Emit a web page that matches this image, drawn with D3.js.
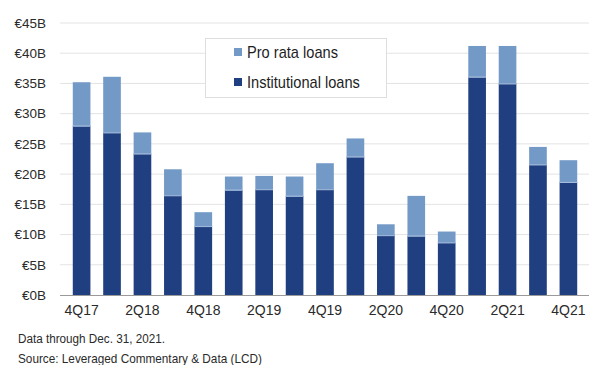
<!DOCTYPE html>
<html>
<head>
<meta charset="utf-8">
<script src="https://cdn.jsdelivr.net/npm/d3@7"></script>
<style>
  html, body { margin: 0; padding: 0; background: #fff; }
  svg { display: block; font-family: "Liberation Sans", Arial, sans-serif; }
</style>
</head>
<body>
<svg id="chart" width="589" height="365"></svg>
<script>
const categories = ["4Q17","1Q18","2Q18","3Q18","4Q18","1Q19","2Q19","3Q19","4Q19","1Q20","2Q20","3Q20","4Q20","1Q21","2Q21","3Q21","4Q21"];
const institutional = [28.0, 26.9, 23.4, 16.5, 11.4, 17.4, 17.5, 16.4, 17.5, 22.9, 9.9, 9.8, 8.7, 36.1, 35.0, 21.6, 18.7];
const proRata = [7.2, 9.2, 3.5, 4.3, 2.3, 2.2, 2.2, 3.2, 4.3, 3.0, 1.8, 6.6, 1.8, 5.1, 6.2, 2.9, 3.6];
const yTicks = [0, 5, 10, 15, 20, 25, 30, 35, 40, 45];
const xTickLabels = ["4Q17","2Q18","4Q18","2Q19","4Q19","2Q20","4Q20","2Q21","4Q21"];
const seriesNames = ["Pro rata loans", "Institutional loans"];
const footnotes = ["Data through Dec. 31, 2021.", "Source: Leveraged Commentary & Data (LCD)"];
const colors = { inst: "#1f3f80", pro: "#7399c7" };

const svg = d3.select("#chart");
const x = d3.scaleBand().domain(categories).range([60, 590]).padding(0.42);
const y = d3.scaleLinear().domain([0, 45]).range([295, 23]);

// fit text horizontally by scaling (condensed look)
function fitText(g, target) {
  const t = g.select("text");
  const w = t.node().getComputedTextLength();
  const tr = g.attr("data-pos");
  g.attr("transform", tr + " scale(" + (target / w) + ",1)");
}

// gridlines
svg.append("g").selectAll("line").data(yTicks.filter(d => d > 0)).join("line")
  .attr("x1", 60).attr("x2", 589)
  .attr("y1", d => y(d)).attr("y2", d => y(d))
  .attr("stroke", "#e3e3e3").attr("stroke-width", 1);

// y labels
svg.append("g").selectAll("text").data(yTicks).join("text")
  .attr("x", 46).attr("y", d => y(d)).attr("dy", "0.35em")
  .attr("text-anchor", "end").attr("font-size", 13.5).attr("fill", "#2a2a2a")
  .text(d => "€" + d + "B");

// bars
const bars = svg.append("g");
categories.forEach((c, i) => {
  bars.append("rect")
    .attr("x", x(c)).attr("width", x.bandwidth())
    .attr("y", y(institutional[i])).attr("height", y(0) - y(institutional[i]))
    .attr("fill", colors.inst);
  bars.append("rect")
    .attr("x", x(c)).attr("width", x.bandwidth())
    .attr("y", y(institutional[i] + proRata[i])).attr("height", y(institutional[i]) - y(institutional[i] + proRata[i]))
    .attr("fill", colors.pro);
  bars.append("line")
    .attr("x1", x(c)).attr("x2", x(c) + x.bandwidth())
    .attr("y1", y(institutional[i]) + 0.5).attr("y2", y(institutional[i]) + 0.5)
    .attr("stroke", "#a9c1e0").attr("stroke-width", 1);
});

// baseline
svg.append("line").attr("x1", 60).attr("x2", 589).attr("y1", y(0) + 0.5).attr("y2", y(0) + 0.5)
  .attr("stroke", "#9a9a9a").attr("stroke-width", 1);

// x labels
svg.append("g").selectAll("text").data(xTickLabels).join("text")
  .attr("x", d => x(d) + x.bandwidth() / 2).attr("y", 315)
  .attr("text-anchor", "middle").attr("font-size", 14).attr("fill", "#2a2a2a")
  .text(d => d);

// legend
const lg = svg.append("g");
lg.append("rect").attr("x", 205.5).attr("y", 38.5).attr("width", 181).attr("height", 59)
  .attr("fill", "#fff").attr("stroke", "#dedede");
[[seriesNames[0], colors.pro, 52, 91], [seriesNames[1], colors.inst, 82, 113]].forEach(([t, col, cy, len]) => {
  lg.append("rect").attr("x", 234).attr("y", cy - 4).attr("width", 8).attr("height", 8).attr("fill", col);
  const g = lg.append("g").attr("data-pos", "translate(247," + cy + ")");
  g.append("text").attr("dy", "0.35em").attr("font-size", 16).attr("fill", "#1e1e1e").text(t);
  fitText(g, len);
});

// footnotes
[[footnotes[0], 343, 147], [footnotes[1], 363, 244]].forEach(([t, yy, len]) => {
  const g = svg.append("g").attr("data-pos", "translate(18," + yy + ")");
  g.append("text").attr("font-size", 13.5).attr("fill", "#2a2a2a").text(t);
  fitText(g, len);
});
</script>
</body>
</html>
